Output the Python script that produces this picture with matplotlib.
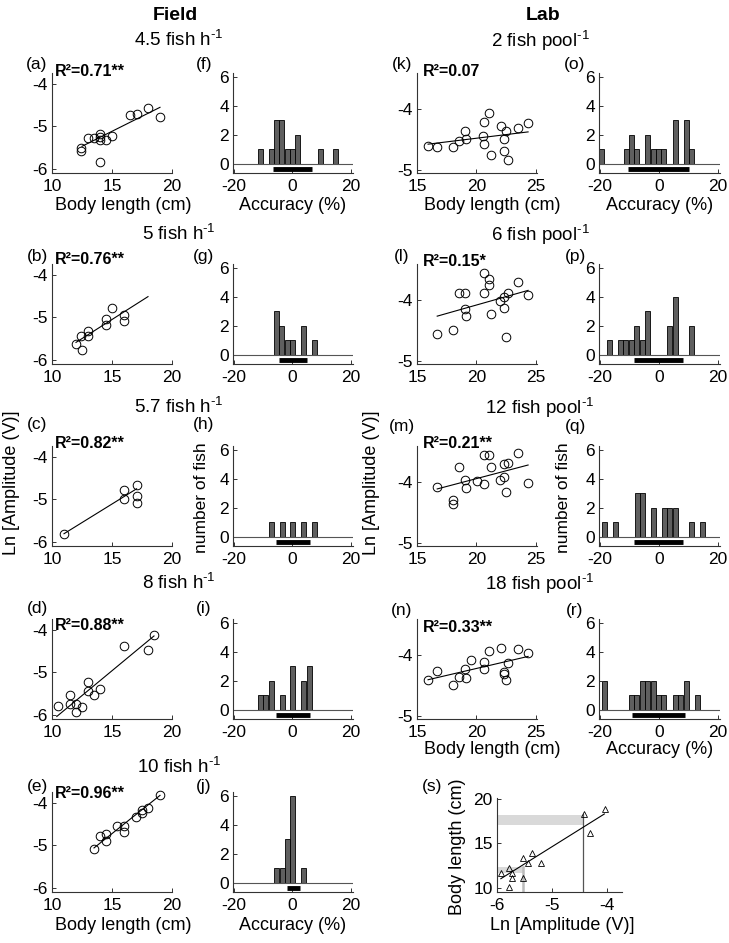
import numpy as np
import matplotlib.pyplot as plt

plt.rcParams['font.family'] = ['Liberation Sans', 'DejaVu Sans']
plt.rcParams['mathtext.fontset'] = 'custom'
plt.rcParams['mathtext.rm'] = 'Liberation Sans'
plt.rcParams['mathtext.default'] = 'regular'
plt.rcParams['axes.unicode_minus'] = False

# ---- data: field scatter (body length cm, ln amplitude V) ----
a_len = [12.45, 12.45, 13.0, 13.5, 13.98, 13.98, 13.98, 14.5, 15.04, 13.98, 16.5, 17.07, 18.0, 19.0]
a_amp = [-5.50, -5.57, -5.27, -5.27, -5.18, -5.26, -5.31, -5.31, -5.22, -5.84, -4.74, -4.71, -4.56, -4.77]
b_len = [11.98, 12.5, 12.45, 13.0, 13.0, 14.54, 14.54, 15.0, 15.99, 15.99]
b_amp = [-5.63, -5.76, -5.43, -5.33, -5.45, -5.04, -5.17, -4.78, -4.94, -5.08]
c_len = [11.0, 16.0, 16.0, 17.05, 17.05, 17.05]
c_amp = [-5.81, -4.77, -5.0, -4.67, -4.92, -5.08]
d_len = [10.5, 11.48, 11.48, 12.03, 12.03, 12.53, 13.0, 13.0, 13.5, 14.0, 16.0, 18.0, 18.5]
d_amp = [-5.8, -5.54, -5.75, -5.75, -5.93, -5.81, -5.23, -5.44, -5.53, -5.39, -4.37, -4.47, -4.12]
e_len = [13.5, 14.0, 14.5, 14.5, 15.43, 16.0, 16.0, 17.0, 17.46, 17.46, 18.0, 19.0]
e_amp = [-5.08, -4.78, -4.74, -4.90, -4.54, -4.54, -4.68, -4.32, -4.24, -4.16, -4.12, -3.82]

# ---- data: lab scatter ----
k_len = [15.93, 16.7, 18.0, 18.57, 19.02, 19.13, 20.55, 20.66, 20.66, 21.08, 21.25, 22.07, 22.3, 22.36, 22.5, 22.68, 23.5, 24.35]
k_amp = [-4.605, -4.63, -4.62, -4.53, -4.37, -4.49, -4.45, -4.22, -4.58, -4.08, -4.76, -4.29, -4.49, -4.69, -4.37, -4.84, -4.32, -4.23]
l_len = [16.7, 18.0, 18.57, 19.05, 19.02, 19.13, 20.66, 20.66, 21.08, 21.08, 21.25, 22.0, 22.36, 22.3, 22.5, 22.68, 23.5, 24.35]
l_amp = [-4.56, -4.50, -3.89, -3.89, -4.15, -4.27, -3.57, -3.90, -3.66, -3.77, -4.24, -4.02, -3.96, -4.14, -4.61, -3.89, -3.71, -3.92]
m_len = [16.7, 18.0, 18.0, 18.57, 19.02, 19.13, 20.04, 20.66, 20.66, 21.08, 21.25, 22.0, 22.3, 22.36, 22.5, 22.68, 23.5, 24.35]
m_amp = [-4.09, -4.30, -4.36, -3.76, -3.97, -4.10, -3.99, -4.04, -3.56, -3.57, -3.76, -3.98, -3.72, -3.92, -4.17, -3.70, -3.53, -4.03]
n_len = [15.93, 16.7, 18.0, 18.57, 19.02, 19.13, 19.53, 20.66, 20.66, 21.08, 22.07, 22.3, 22.36, 22.5, 22.68, 23.5, 24.35]
n_amp = [-4.41, -4.27, -4.50, -4.36, -4.24, -4.38, -4.09, -4.12, -4.24, -3.94, -3.90, -4.29, -4.31, -4.41, -4.14, -3.91, -3.97]

# regression line end points
fits = {
    'a': ([12.5, 19.0], [-5.47, -4.55]),
    'b': ([12.0, 18.0], [-5.59, -4.51]),
    'c': ([11.0, 17.05], [-5.81, -4.75]),
    'd': ([10.4, 18.5], [-6.04, -4.14]),
    'e': ([13.5, 19.0], [-5.06, -3.82]),
    'k': ([15.93, 24.35], [-4.58, -4.38]),
    'l': ([16.7, 24.35], [-4.27, -3.85]),
    'm': ([16.7, 24.35], [-4.12, -3.73]),
    'n': ([15.93, 24.35], [-4.41, -4.03]),
}
r2_text = {'a': 'R²=0.71**', 'b': 'R²=0.76**', 'c': 'R²=0.82**', 'd': 'R²=0.88**',
           'e': 'R²=0.96**', 'k': 'R²=0.07', 'l': 'R²=0.15*', 'm': 'R²=0.21**', 'n': 'R²=0.33**'}

# ---- data: accuracy histograms (bin centre %, number of fish) and spread bar ----
f_acc = [-10.8, -7.2, -5.4, -3.6, -1.8, 0.0, 1.8, 9.4, 14.8]
f_cnt = [1, 1, 3, 3, 1, 1, 2, 1, 1]
g_acc = [-5.45, -3.75, -1.8, 0.1, 3.9, 7.6]
g_cnt = [3, 2, 1, 1, 2, 1]
h_acc = [-7.2, -3.5, 0.1, 3.9, 7.6]
h_cnt = [1, 1, 1, 1, 1]
i_acc = [-10.9, -9.2, -7.2, -3.5, 0.1, 3.9, 5.8]
i_cnt = [1, 1, 2, 1, 3, 2, 3]
j_acc = [-5.45, -3.5, -1.8, 0.1, 3.9]
j_cnt = [1, 1, 3, 6, 1]
o_acc = [-19.2, -11.0, -9.3, -7.4, -3.7, -1.8, 0.0, 1.7, 5.6, 9.2, 10.9]
o_cnt = [1, 1, 2, 1, 2, 1, 1, 1, 3, 3, 1]
p_acc = [-16.6, -12.9, -11.2, -9.3, -7.4, -5.6, -3.7, 3.6, 5.6, 10.9]
p_cnt = [1, 1, 1, 1, 2, 1, 3, 2, 4, 2]
q_acc = [-18.3, -14.7, -7.3, -5.6, -1.8, 1.9, 3.6, 5.6, 10.9, 14.6]
q_cnt = [1, 1, 3, 3, 2, 2, 2, 2, 1, 1]
r_acc = [-18.3, -9.1, -7.4, -5.6, -3.7, -1.8, 0.0, 1.7, 5.6, 7.3, 9.2, 12.9]
r_cnt = [2, 1, 1, 2, 2, 2, 1, 1, 1, 1, 2, 1]
spread = {'f': [-6.5, 6.7], 'g': [-4.5, 4.8], 'h': [-5.7, 6.1], 'i': [-5.7, 6.1], 'j': [-2.0, 2.5],
          'o': [-10.3, 10.3], 'p': [-8.3, 8.1], 'q': [-8.3, 8.1], 'r': [-9.0, 8.8]}

# ---- data: panel (s) calibration ----
s_amp = [-5.93, -5.78, -5.78, -5.72, -5.72, -5.53, -5.52, -5.43, -5.37, -5.21, -4.42, -4.32, -4.03]
s_len = [11.67, 12.2, 10.07, 11.67, 11.1, 11.1, 13.33, 12.78, 13.9, 12.78, 18.33, 16.1, 18.9]
s_fit = ([-5.93, -4.05], [11.0, 18.3])

# short hyphen in the superscript, like the original
field_titles = ['4.5 fish h$^{‐1}$', '5 fish h$^{‐1}$', '5.7 fish h$^{‐1}$', '8 fish h$^{‐1}$', '10 fish h$^{‐1}$']
lab_titles = ['2 fish pool$^{‐1}$', '6 fish pool$^{‐1}$', '12 fish pool$^{‐1}$', '18 fish pool$^{‐1}$']

W, H = 729, 943
fig = plt.figure(figsize=(W / 100, H / 100), dpi=100)

def px_axes(l, t, r, b):
    return fig.add_axes([l / W, 1 - b / H, (r - l) / W, (b - t) / H])

def ftext(x, y, s, **kw):
    kw.setdefault('ha', 'center')
    kw.setdefault('va', 'center')
    kw.setdefault('fontsize', 13)
    fig.text(x / W, 1 - y / H, s, **kw)

def style(ax):
    for side in ['top', 'right']:
        ax.spines[side].set_visible(False)
    for side in ['left', 'bottom']:
        ax.spines[side].set_color('#333333')
        ax.spines[side].set_linewidth(0.8)
    ax.tick_params(direction='in', length=3, width=0.7, labelsize=12.5, colors='#333333',
                   labelcolor='black')
    ax.tick_params(axis='x', pad=4)
    ax.tick_params(axis='y', pad=3)

def scatter_panel(ax, xs, ys, key, lab):
    ax.plot(xs, ys, 'o', mfc='none', mec='black', mew=0.7, ms=6.2, clip_on=False)
    fx, fy = fits[key]
    ax.plot(fx, fy, color='black', lw=0.8)
    if lab:
        ax.set_xlim(15, 25.1)
        ax.set_ylim(-5.05, -3.42)
        ax.set_xticks([15, 20, 25])
        ax.set_yticks([-5, -4])
    else:
        ax.set_xlim(10, 20)
        ax.set_ylim(-6.1, -3.74)
        ax.set_xticks([10, 15, 20])
        ax.set_yticks([-6, -5, -4])
    style(ax)

def hist_panel(ax, acc, cnt, key):
    ax.bar(acc, cnt, width=1.7, color='#5f5f5f', edgecolor='black', linewidth=0.6)
    ax.axhline(0, color='#555555', lw=0.8)
    lo, hi = spread[key]
    ax.plot([lo, hi], [-0.38, -0.38], color='black', lw=3.5, solid_capstyle='butt')
    ax.set_xlim(-20.2, 20.6)
    ax.set_ylim(-0.65, 6.3)
    ax.set_xticks([-20, 0, 20])
    ax.set_yticks([0, 2, 4, 6])
    style(ax)

# row geometry (pixel bottoms of axes)
field_bottoms = [173, 364, 546, 719, 892]
title_y = [40, 234, 407, 583, 767]
field_sc = [(a_len, a_amp, 'a'), (b_len, b_amp, 'b'), (c_len, c_amp, 'c'), (d_len, d_amp, 'd'), (e_len, e_amp, 'e')]
field_hi = [(f_acc, f_cnt, 'f'), (g_acc, g_cnt, 'g'), (h_acc, h_cnt, 'h'), (i_acc, i_cnt, 'i'), (j_acc, j_cnt, 'j')]
lab_sc = [(k_len, k_amp, 'k'), (l_len, l_amp, 'l'), (m_len, m_amp, 'm'), (n_len, n_amp, 'n')]
lab_hi = [(o_acc, o_cnt, 'o'), (p_acc, p_cnt, 'p'), (q_acc, q_cnt, 'q'), (r_acc, r_cnt, 'r')]

field_lbl_y = [65, 256, 425, 608, 787]
field_r2_y = [72, 260, 443, 626, 794]
lab_lbl_y = [64, 256, 426, 610]
lab_r2_y = [72, 262, 444, 627]

for i in range(5):
    bot = field_bottoms[i]
    top = bot - 100
    ax = px_axes(52, top, 172, bot)
    xs, ys, key = field_sc[i]
    scatter_panel(ax, xs, ys, key, False)
    ftext(55, field_r2_y[i], r2_text[key], ha='left', fontsize=11.5, fontweight='bold')
    ftext(37, field_lbl_y[i], '(%s)' % key, fontsize=12.5)

    ax = px_axes(233, top, 353, bot)
    acc, cnt, key = field_hi[i]
    hist_panel(ax, acc, cnt, key)
    ftext(204, field_lbl_y[i], '(%s)' % key, fontsize=12.5)

    ftext(179, title_y[i], field_titles[i], fontsize=13.5)

for i in range(4):
    bot = field_bottoms[i]
    top = bot - 100
    ax = px_axes(417, top, 537, bot)
    xs, ys, key = lab_sc[i]
    scatter_panel(ax, xs, ys, key, True)
    ftext(423, lab_r2_y[i], r2_text[key], ha='left', fontsize=11.5, fontweight='bold')
    ftext(402, lab_lbl_y[i], '(%s)' % key, fontsize=12.5)

    ax = px_axes(599, top, 720, bot)
    acc, cnt, key = lab_hi[i]
    hist_panel(ax, acc, cnt, key)
    ftext(575, lab_lbl_y[i], '(%s)' % key, fontsize=12.5)

    ftext(540, title_y[i] + 1, lab_titles[i], fontsize=13.5)

# panel (s)
ax = px_axes(497, 798, 622, 892)
ax.axhspan(17.1, 18.2, xmin=0, xmax=(-4.44 + 6) / 2.27, color='#d9d9d9', lw=0)
ax.axhspan(11.6, 12.3, xmin=0, xmax=(-5.53 + 6) / 2.27, color='#d9d9d9', lw=0)
ax.plot([-4.44, -4.44], [9.5, 18.3], color='#555555', lw=0.9)
ax.plot([-5.53, -5.53], [9.5, 12.3], color='#bbbbbb', lw=1.8)
ax.plot(s_fit[0], s_fit[1], color='black', lw=0.8)
ax.plot(s_amp, s_len, '^', mfc='none', mec='black', mew=0.6, ms=4.2)
ax.set_xlim(-6, -3.73)
ax.set_ylim(9.5, 20.1)
ax.set_xticks([-6, -5, -4])
ax.set_yticks([10, 15, 20])
style(ax)
ftext(432, 787, '(s)', fontsize=12.5)
ftext(562, 925, 'Ln [Amplitude (V)]')
ftext(458, 847, 'Body length (cm)', rotation=90)

# column headers
ftext(175, 15, 'Field', fontsize=14, fontweight='bold')
ftext(543, 15, 'Lab', fontsize=14, fontweight='bold')

# axis labels
ftext(123, 205, 'Body length (cm)')
ftext(293, 205, 'Accuracy (%)')
ftext(123, 925, 'Body length (cm)')
ftext(293, 925, 'Accuracy (%)')
ftext(492, 205, 'Body length (cm)')
ftext(660, 205, 'Accuracy (%)')
ftext(492, 750, 'Body length (cm)')
ftext(660, 750, 'Accuracy (%)')
ftext(12, 483, 'Ln [Amplitude (V)]', rotation=90)
ftext(372, 483, 'Ln [Amplitude (V)]', rotation=90)
ftext(202, 498, 'number of fish', rotation=90, fontsize=12.5)
ftext(563, 498, 'number of fish', rotation=90, fontsize=12.5)

fig.savefig('out.png', dpi=100)
